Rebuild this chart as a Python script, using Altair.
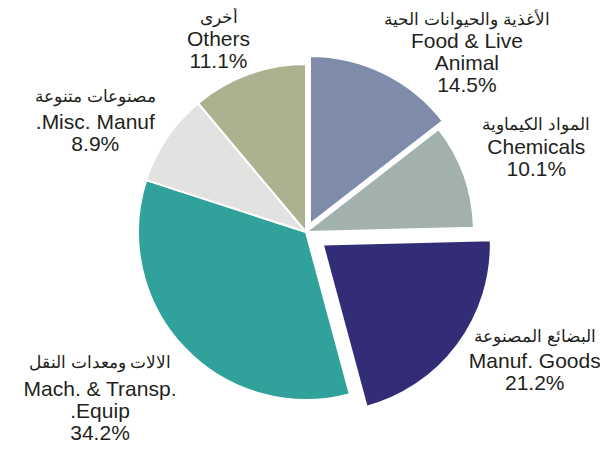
import math
import altair as alt
import pandas as pd

# ---- data ----
order = [1, 2, 3, 4, 5, 6]
english = ["Food & Live\nAnimal", "Chemicals", "Manuf. Goods",
           "Mach. & Transp.\n.Equip", ".Misc. Manuf", "Others"]
arabic = ["الأغذية والحيوانات الحية", "المواد الكيماوية", "البضائع المصنوعة",
          "الالات ومعدات النقل", "مصنوعات متنوعة", "أخرى"]
shares = [14.5, 10.1, 21.2, 34.2, 8.9, 11.1]

# ---- styles ----
colors = ["#7e8bab", "#a2b1ad", "#332d77", "#31a29b", "#e2e2e0", "#abb290"]
RADIUS = 168
LABEL_R = 218
EXPLODE = {0: 9, 2: 21}  # index -> px pushed out along slice middle
NUDGE = {0: (65, 12), 1: (25, -5), 2: (54, 6), 3: (-48, 14), 4: (-30, 19), 5: (-13, 19)}
AR_GAP = {0: 23, 1: 24, 2: 26, 3: 28, 4: 27, 5: 23}
TEXT_COLOR = "#231f20"

df = pd.DataFrame({
    "order": order,
    "cat": english,
    "ar": arabic,
    "share": shares,
})
df["en"] = [f"{e}\n{s:.1f}%" for e, s in zip(english, shares)]

total = sum(shares)
theta_scale = alt.Scale(domain=[0, total], range=[0, 2 * math.pi])
color_scale = alt.Scale(domain=english, range=colors)

base = alt.Chart(df).transform_window(
    end="sum(share)", sort=[alt.SortField("order")], frame=[None, 0]
).transform_calculate(
    start="datum.end - datum.share",
    mid="datum.end - datum.share / 2",
)

# offsets of exploded slices, derived from the shares
cum = [sum(shares[:i]) for i in range(len(shares))]
mids = [(c + s / 2) / total * 2 * math.pi for c, s in zip(cum, shares)]

layers = []
plain = [e for i, e in enumerate(english) if i not in EXPLODE]
layers.append(
    base.transform_filter(alt.FieldOneOfPredicate(field="cat", oneOf=plain))
    .mark_arc(radius=RADIUS, stroke="white", strokeWidth=2)
    .encode(
        theta=alt.Theta("start:Q", scale=theta_scale),
        theta2="end:Q",
        color=alt.Color("cat:N", scale=color_scale, legend=None),
    )
)
for i, d in EXPLODE.items():
    layers.append(
        base.transform_filter(alt.datum.cat == english[i])
        .mark_arc(radius=RADIUS, stroke="white", strokeWidth=2,
                  xOffset=d * math.sin(mids[i]), yOffset=-d * math.cos(mids[i]))
        .encode(
            theta=alt.Theta("start:Q", scale=theta_scale),
            theta2="end:Q",
            color=alt.Color("cat:N", scale=color_scale, legend=None),
        )
    )

for i in range(len(english)):
    dx, dy = NUDGE[i]
    sub = base.transform_filter(alt.datum.cat == english[i])
    layers.append(
        sub.mark_text(font="Arial", fontSize=21, lineHeight=22, lineBreak="\n",
                      align="center", baseline="alphabetic", color=TEXT_COLOR,
                      dx=dx, dy=dy)
        .encode(theta=alt.Theta("mid:Q", scale=theta_scale),
                radius=alt.value(LABEL_R), text="en:N")
    )
    layers.append(
        sub.mark_text(font="Arial", fontSize=17, align="center",
                      baseline="alphabetic", color=TEXT_COLOR,
                      dx=dx, dy=dy - AR_GAP[i])
        .encode(theta=alt.Theta("mid:Q", scale=theta_scale),
                radius=alt.value(LABEL_R), text="ar:N")
    )

chart = alt.layer(*layers).properties(
    width=400, height=200,
    padding={"left": 98, "top": 124, "right": 94, "bottom": 116},
    autosize=alt.AutoSizeParams(type="none"),
).configure_view(stroke=None)

chart.save("out.html", embed_options={"renderer": "svg", "actions": False})
